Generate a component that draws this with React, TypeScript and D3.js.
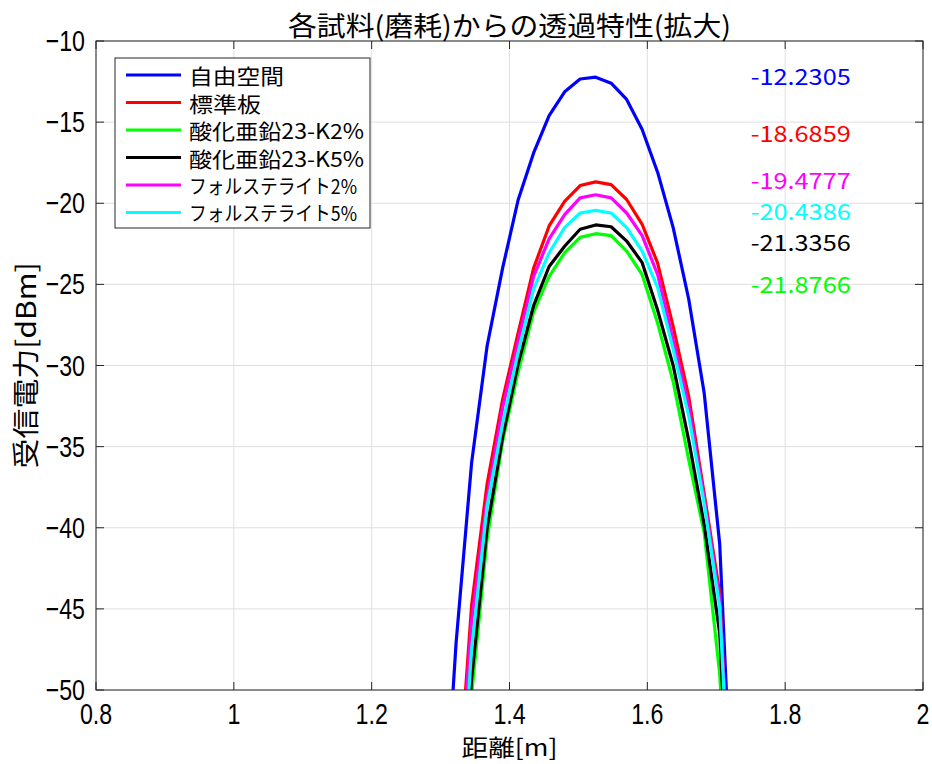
import React from "react";
import * as d3 from "d3";

// distance [m] of each measurement point
const distance = [
  1.3, 1.3225, 1.345, 1.3675, 1.39, 1.4125, 1.435, 1.4575, 1.48, 1.5025, 1.525,
  1.5475, 1.57, 1.5925, 1.615, 1.6375, 1.66, 1.6825, 1.705, 1.7275, 1.75,
];

// received power [dBm] per sample
const freeSpace = [
  -62, -47.1, -36.0, -28.8, -24.0, -19.8, -16.9, -14.6, -13.13, -12.34, -12.2305,
  -12.6, -13.6, -15.45, -18.1, -21.5, -25.9, -31.7, -41.0, -62, -75,
];
const standardPlate = [
  -72, -58.2, -44.8, -37.3, -32.1, -28.0, -24.0, -21.4, -19.88, -18.91, -18.6859,
  -18.85, -19.77, -21.3, -23.7, -27.6, -31.9, -37.9, -44.0, -64.5, -78,
];
const zincOxideK2 = [
  -77, -66, -50.3, -40.7, -34.7, -30.4, -26.7, -24.5, -23.05, -22.1, -21.8766,
  -22.0, -22.95, -24.4, -27.4, -31.0, -35.8, -40.3, -49.0, -66, -80,
];
const zincOxideK5 = [
  -76, -65, -49.3, -40.0, -34.4, -29.9, -26.3, -23.9, -22.65, -21.6, -21.3356,
  -21.45, -22.33, -23.66, -26.6, -30.0, -34.6, -39.8, -46.5, -65, -79,
];
const forsterite2 = [
  -73, -59, -45.8, -38.2, -32.6, -28.5, -24.5, -22.2, -20.7, -19.67, -19.4777,
  -19.67, -20.6, -22.0, -24.4, -28.4, -32.5, -38.2, -44.4, -63, -78,
];
const forsterite5 = [
  -74, -62, -47.5, -38.7, -33.6, -29.2, -25.3, -23.05, -21.5, -20.6, -20.4386,
  -20.6, -21.5, -22.95, -25.2, -29.0, -33.1, -38.5, -44.9, -64, -78,
];

const seriesNames = [
  "自由空間",
  "標準板",
  "酸化亜鉛23-K2%",
  "酸化亜鉛23-K5%",
  "フォルステライト2%",
  "フォルステライト5%",
];
const seriesValues = [freeSpace, standardPlate, zincOxideK2, zincOxideK5, forsterite2, forsterite5];
const seriesColors = ["#0000ff", "#ff0000", "#00ff00", "#000000", "#ff00ff", "#00ffff"];

// peak value annotations (text, and where they were placed in data units)
const peakText = ["-12.2305", "-18.6859", "-21.8766", "-21.3356", "-19.4777", "-20.4386"];
const peakTextY = [-12.1, -15.6, -24.9, -22.3, -18.5, -20.4];
const peakTextX = 1.75;

const xTicks = [0.8, 1, 1.2, 1.4, 1.6, 1.8, 2];
const yTicks = [-50, -45, -40, -35, -30, -25, -20, -15, -10];

const W = 932;
const H = 764;
const left = 96;
const right = 923;
const top = 41;
const bottom = 690;

const tickFont = "'Liberation Sans', Arial, sans-serif";
const jpFont = "'Noto Sans CJK JP', 'Noto Sans', sans-serif";

export default function App() {
  const x = d3.scaleLinear().domain([0.8, 2]).range([left, right]);
  const y = d3.scaleLinear().domain([-50, -10]).range([bottom, top]);

  const line = d3
    .line<number>()
    .x((_, i) => x(distance[i]))
    .y((d) => y(d));

  const tickLen = 8;
  const axisColor = "#262626";
  const fmt = d3.format("~g");
  const squeeze = 0.8; // tick labels in the original are a narrow face

  return (
    <svg
      width={W}
      height={H}
      viewBox={`0 0 ${W} ${H}`}
      style={{ position: "absolute", left: 0, top: 0, background: "white" }}
    >
      <defs>
        <clipPath id="plotArea">
          <rect x={left} y={top} width={right - left} height={bottom - top} />
        </clipPath>
      </defs>
      <rect x={0} y={0} width={W} height={H} fill="white" />

      {/* grid */}
      <g stroke="#dfdfdf" strokeWidth={1}>
        {xTicks.map((t) => (
          <line key={"gx" + t} x1={x(t)} x2={x(t)} y1={top} y2={bottom} />
        ))}
        {yTicks.map((t) => (
          <line key={"gy" + t} x1={left} x2={right} y1={y(t)} y2={y(t)} />
        ))}
      </g>

      {/* data lines */}
      <g clipPath="url(#plotArea)" fill="none" strokeWidth={3.2} strokeLinejoin="round">
        {seriesValues.map((vals, i) => (
          <path key={seriesNames[i]} d={line(vals) ?? ""} stroke={seriesColors[i]} />
        ))}
      </g>

      {/* axes box and ticks */}
      <g stroke={axisColor} strokeWidth={1} fill="none">
        <rect x={left} y={top} width={right - left} height={bottom - top} />
        {xTicks.map((t) => (
          <g key={"tx" + t}>
            <line x1={x(t)} x2={x(t)} y1={bottom} y2={bottom - tickLen} />
            <line x1={x(t)} x2={x(t)} y1={top} y2={top + tickLen} />
          </g>
        ))}
        {yTicks.map((t) => (
          <g key={"ty" + t}>
            <line x1={left} x2={left + tickLen} y1={y(t)} y2={y(t)} />
            <line x1={right} x2={right - tickLen} y1={y(t)} y2={y(t)} />
          </g>
        ))}
      </g>

      {/* tick labels */}
      <g fontFamily={tickFont} fontSize={29} fill="#000">
        {xTicks.map((t) => (
          <text
            key={"lx" + t}
            transform={`translate(${x(t)}, ${bottom + 34}) scale(${squeeze}, 1)`}
            textAnchor="middle"
          >
            {fmt(t)}
          </text>
        ))}
        {yTicks.map((t) => (
          <text
            key={"ly" + t}
            transform={`translate(${left - 11}, ${y(t) + 10}) scale(${squeeze}, 1)`}
            textAnchor="end"
          >
            {fmt(t)}
          </text>
        ))}
      </g>

      {/* title and axis labels */}
      <text
        x={(left + right) / 2}
        y={36}
        textAnchor="middle"
        fontFamily={jpFont}
        fontSize={27}
        textLength={443}
        lengthAdjust="spacingAndGlyphs"
      >
        各試料(磨耗)からの透過特性(拡大)
      </text>
      <text
        x={(left + right) / 2}
        y={756}
        textAnchor="middle"
        fontFamily={jpFont}
        fontSize={23}
        textLength={96}
        lengthAdjust="spacingAndGlyphs"
      >
        距離[m]
      </text>
      <text
        transform={`translate(36, ${(top + bottom) / 2}) rotate(-90)`}
        textAnchor="middle"
        fontFamily={jpFont}
        fontSize={27}
        textLength={206}
        lengthAdjust="spacingAndGlyphs"
      >
        受信電力[dBm]
      </text>

      {/* legend */}
      <g>
        <rect x={115} y={58} width={255} height={170} fill="white" stroke={axisColor} strokeWidth={1} />
        {seriesNames.map((name, i) => {
          const cy = 75 + i * 27.5;
          const kata = name.startsWith("フ");
          const widths = [95, 72, 175, 175, 168, 168];
          return (
            <g key={"lg" + name}>
              <line x1={126} x2={181} y1={cy} y2={cy} stroke={seriesColors[i]} strokeWidth={3.2} />
              <text
                x={189}
                y={cy}
                dominantBaseline="central"
                fontFamily={jpFont}
                fontSize={kata ? 20 : 21}
                textLength={widths[i]}
                lengthAdjust="spacingAndGlyphs"
              >
                {name}
              </text>
            </g>
          );
        })}
      </g>

      {/* peak value annotations */}
      <g fontFamily={jpFont} fontSize={22}>
        {peakText.map((t, i) => (
          <text
            key={"pk" + i}
            x={x(peakTextX)}
            y={y(peakTextY[i])}
            dominantBaseline="central"
            fill={seriesColors[i]}
            textLength={100}
            lengthAdjust="spacingAndGlyphs"
          >
            {t}
          </text>
        ))}
      </g>
    </svg>
  );
}
